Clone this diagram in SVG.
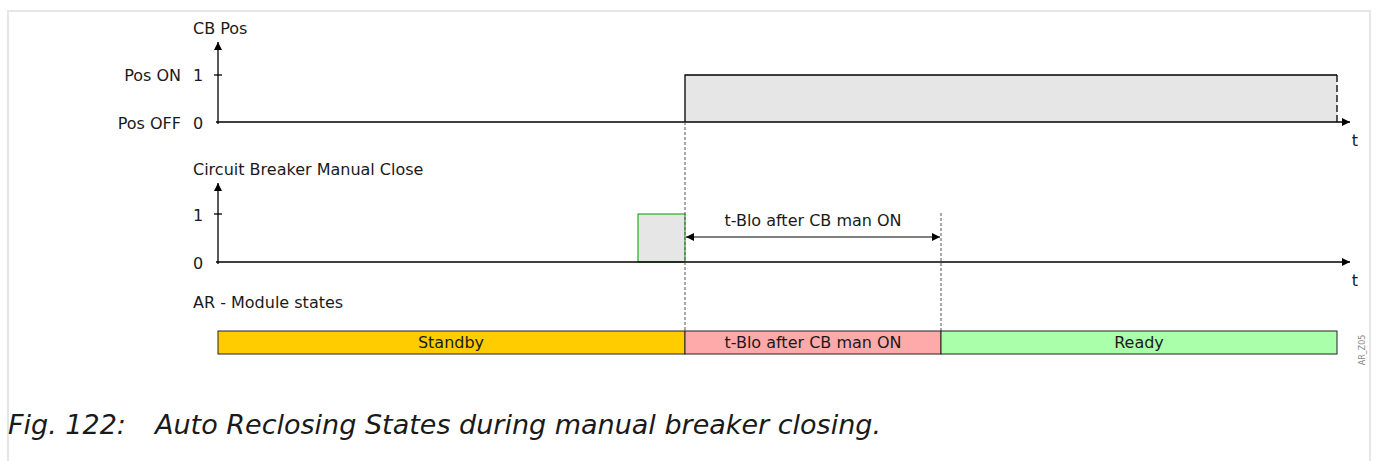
<svg xmlns="http://www.w3.org/2000/svg" width="1381" height="461" viewBox="0 0 1381 461">
<defs>
<marker id="ah" viewBox="0 0 10 10" refX="10" refY="5" markerWidth="10" markerHeight="8" markerUnits="userSpaceOnUse" orient="auto-start-reverse">
<path d="M0,0 L10,5 L0,10 z" fill="#000"/>
</marker>
<style>
text{font-family:"DejaVu Sans",sans-serif;font-size:16px;fill:#1a1a1a}
.ax{stroke:#000;stroke-width:1.3;fill:none}
.dash{stroke:#555;stroke-width:1;stroke-dasharray:3,2;fill:none}
.bar{stroke:#222;stroke-width:1}
.mid{text-anchor:middle}
.end{text-anchor:end}
</style>
</defs>
<rect x="0" y="0" width="1381" height="461" fill="#fff"/>
<path d="M8,461 V11 H1370 V461" fill="none" stroke="#e6e6e6" stroke-width="2"/>

<g id="cbpos">
<text x="193" y="34">CB Pos</text>
<text x="181" y="81" class="end">Pos ON</text>
<text x="193" y="81">1</text>
<text x="181" y="129" class="end">Pos OFF</text>
<text x="193" y="129">0</text>
<rect x="685" y="75" width="652" height="47" fill="#e6e6e6"/>
<path d="M685,122 V75 H1337" class="ax"/>
<path d="M1337,75 V122" stroke="#000" stroke-width="1.3" stroke-dasharray="7,3" fill="none"/>
<line x1="218" y1="124" x2="218" y2="42" class="ax" marker-end="url(#ah)"/>
<line x1="214" y1="75" x2="222" y2="75" class="ax"/>
<line x1="216" y1="122" x2="1350" y2="122" class="ax" marker-end="url(#ah)"/>
<text x="1355" y="146" class="mid">t</text>
</g>

<g id="manclose">
<text x="193" y="175">Circuit Breaker Manual Close</text>
<text x="193" y="221">1</text>
<text x="193" y="269">0</text>
<rect x="638" y="214" width="47" height="48" fill="#e6e6e6" stroke="#009900" stroke-width="1"/>
<line x1="218" y1="264" x2="218" y2="183" class="ax" marker-end="url(#ah)"/>
<line x1="214" y1="214" x2="222" y2="214" class="ax"/>
<line x1="216" y1="262" x2="1350" y2="262" class="ax" marker-end="url(#ah)"/>
<text x="1355" y="286" class="mid">t</text>
</g>

<g id="connectors">
<line x1="685" y1="122" x2="685" y2="331" class="dash"/>
<line x1="941" y1="213" x2="941" y2="331" class="dash"/>
<line x1="686" y1="237" x2="940" y2="237" stroke="#000" stroke-width="1.2" marker-start="url(#ah)" marker-end="url(#ah)"/>
<text x="813" y="226" class="mid">t-Blo after CB man ON</text>
</g>

<g id="states">
<text x="193" y="308">AR - Module states</text>
<g id="standby">
<rect x="218" y="331" width="467" height="23" fill="#ffcc00" class="bar"/>
<text x="451" y="348" class="mid">Standby</text>
</g>
<g id="tblo">
<rect x="685" y="331" width="256" height="23" fill="#ffaaaa" class="bar"/>
<text x="813" y="348" class="mid">t-Blo after CB man ON</text>
</g>
<g id="ready">
<rect x="941" y="331" width="396" height="23" fill="#aaffaa" class="bar"/>
<text x="1139" y="348" class="mid">Ready</text>
</g>
<text x="0" y="0" transform="translate(1365,350) rotate(-90)" class="mid" style="font-size:8px;fill:#888">AR_Z05</text>
</g>

<text x="8" y="434" style="font-size:27px;font-style:italic">Fig. 122:<tspan x="155">Auto Reclosing States during manual breaker closing.</tspan></text>
</svg>
